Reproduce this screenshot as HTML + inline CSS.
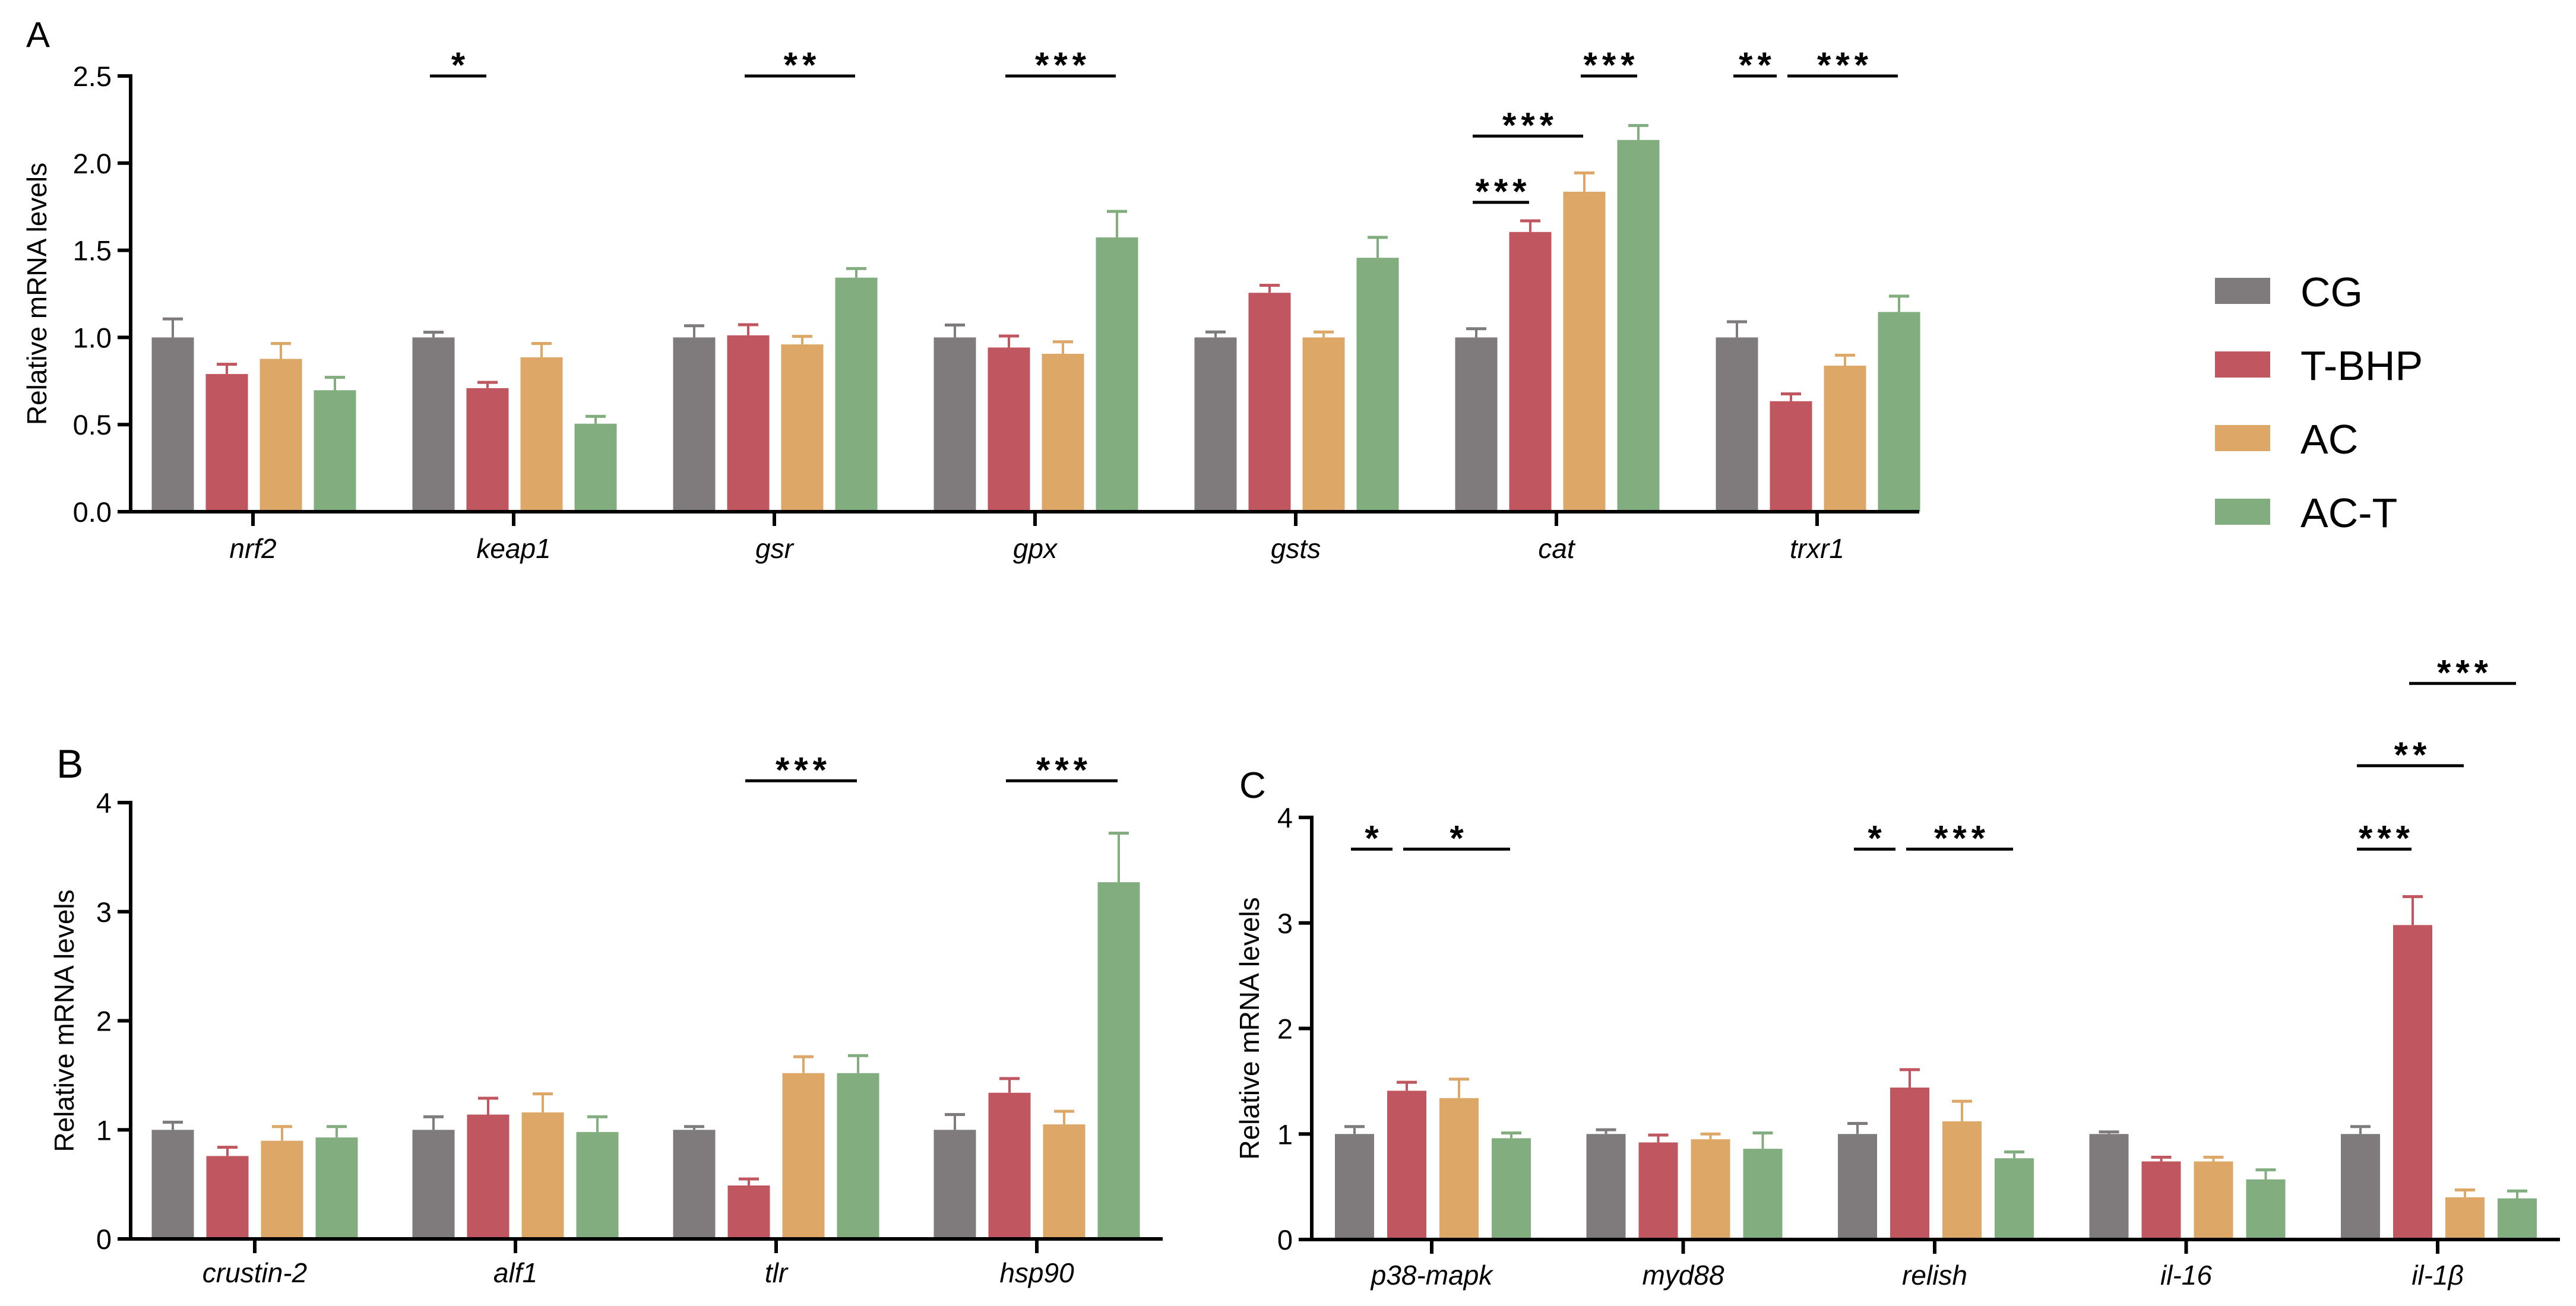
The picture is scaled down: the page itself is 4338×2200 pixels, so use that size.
<!DOCTYPE html>
<html><head><meta charset="utf-8">
<style>
html,body{margin:0;padding:0;background:#fff;}
svg{display:block;font-family:"Liberation Sans",Arial,sans-serif;}
</style></head>
<body>
<svg id="fig" width="4338" height="2200" viewBox="0 0 4338 2200" xmlns="http://www.w3.org/2000/svg">
<g id="root"></g>
</svg>
<script>
// ---------- Data ----------
const groups = ["CG","T-BHP","AC","AC-T"];
const colors = ["#7f7b7c","#c0565f","#dda768","#82ad7f"];

const catsA = ["nrf2","keap1","gsr","gpx","gsts","cat","trxr1"];
const meanA_CG   = [1.0, 1.0, 1.0, 1.0, 1.0, 1.0, 1.0];
const meanA_TBHP = [0.79, 0.709, 1.012, 0.942, 1.256, 1.605, 0.634];
const meanA_AC   = [0.877, 0.886, 0.96, 0.906, 1.0, 1.836, 0.838];
const meanA_ACT  = [0.697, 0.505, 1.343, 1.574, 1.457, 2.133, 1.146];
const errA_CG    = [1.106, 1.03, 1.067, 1.071, 1.031, 1.05, 1.09];
const errA_TBHP  = [0.846, 0.742, 1.073, 1.008, 1.299, 1.669, 0.676];
const errA_AC    = [0.965, 0.965, 1.006, 0.975, 1.031, 1.944, 0.898];
const errA_ACT   = [0.771, 0.547, 1.395, 1.723, 1.574, 2.216, 1.237];
const ticksA = [0, 0.5, 1.0, 1.5, 2.0, 2.5];
const tickLabelsA = ["0.0","0.5","1.0","1.5","2.0","2.5"];

const catsB = ["crustin-2","alf1","tlr","hsp90"];
const meanB_CG   = [1.0, 1.0, 1.0, 1.0];
const meanB_TBHP = [0.76, 1.14, 0.49, 1.34];
const meanB_AC   = [0.90, 1.16, 1.52, 1.05];
const meanB_ACT  = [0.93, 0.98, 1.52, 3.27];
const errB_CG    = [1.07, 1.12, 1.03, 1.14];
const errB_TBHP  = [0.84, 1.29, 0.55, 1.47];
const errB_AC    = [1.03, 1.33, 1.67, 1.17];
const errB_ACT   = [1.03, 1.12, 1.68, 3.72];
const ticksB = [0,1,2,3,4];
const tickLabelsB = ["0","1","2","3","4"];

const catsC = ["p38-mapk","myd88","relish","il-16","il-1β"];
const meanC_CG   = [1.0, 1.0, 1.0, 1.0, 1.0];
const meanC_TBHP = [1.41, 0.92, 1.44, 0.74, 2.98];
const meanC_AC   = [1.34, 0.95, 1.12, 0.74, 0.40];
const meanC_ACT  = [0.96, 0.86, 0.77, 0.57, 0.39];
const errC_CG    = [1.07, 1.04, 1.10, 1.02, 1.07];
const errC_TBHP  = [1.49, 0.99, 1.61, 0.78, 3.25];
const errC_AC    = [1.52, 1.00, 1.31, 0.78, 0.47];
const errC_ACT   = [1.01, 1.01, 0.83, 0.66, 0.46];
const ticksC = [0,1,2,3,4];
const tickLabelsC = ["0","1","2","3","4"];

// significance: [category index, from-group, to-group, level value, stars]
const sigA = [[1,0,1,2.5,"*"],[2,1,3,2.5,"**"],[3,1,3,2.5,"***"],[5,2,3,2.5,"***"],[5,0,2,2.155,"***"],[5,0,1,1.775,"***"],[6,0,1,2.5,"**"],[6,1,3,2.5,"***"]];
const sigB = [[2,1,3,4.2,"***"],[3,1,3,4.2,"***"]];
const sigC = [[0,0,1,3.7,"*"],[0,1,3,3.7,"*"],[2,0,1,3.7,"*"],[2,1,3,3.7,"***"],[4,0,1,3.7,"***"],[4,0,2,4.49,"**"],[4,1,3,5.27,"***"]];

// ---------- Drawing ----------
const NS = "http://www.w3.org/2000/svg";
const root = document.getElementById("root");
function mk(tag, attrs, parent){
  const e = document.createElementNS(NS, tag);
  for (const k in attrs) e.setAttribute(k, attrs[k]);
  (parent||root).appendChild(e);
  return e;
}

function panel(cfg){
  const g = mk("g", {});
  
  
  const ymax = cfg.ticks[cfg.ticks.length-1];
  const y = v => cfg.y0 - (v/ymax)*(cfg.y0 - cfg.yTop);
  const x = i => cfg.x0c + i*cfg.step;
  const L = mk("text", {x:cfg.letterX, y:cfg.letterY, "font-size":cfg.letterSize, fill:"#000"}, g);
  L.textContent = cfg.letter;
  
  
  const means = cfg.means, errs = cfg.errs;
  for (let s=0;s<4;s++){
    for (let i=0;i<cfg.cats.length;i++){
      const cx = x(i) + cfg.offsets[s];
      const top = y(means[s][i]);
      const et = y(errs[s][i]);
      const ln = mk("line", {x1:cx, x2:cx, y1:top, y2:et, stroke:colors[s], "stroke-width":4}, g);
      
      
      const cap = mk("line", {x1:cx-17, x2:cx+17, y1:et, y2:et, stroke:colors[s], "stroke-width":5}, g);
      
      
      const r = mk("rect", {x:cx-cfg.bw/2, y:top, width:cfg.bw, height:cfg.y0-top, fill:colors[s]}, g);
      
      
    }
  }
  const ya = mk("line", {x1:cfg.axX, x2:cfg.axX, y1:cfg.yTop-3, y2:cfg.y0+3, stroke:"#000", "stroke-width":6}, g);
  
  
  const xa = mk("line", {x1:cfg.axX-3, x2:cfg.axEnd, y1:cfg.y0, y2:cfg.y0, stroke:"#000", "stroke-width":6}, g);
  
  
  cfg.ticks.forEach((t,k)=>{
    const ty = y(t);
    const tl = mk("line", {x1:cfg.axX-22, x2:cfg.axX, y1:ty, y2:ty, stroke:"#000", "stroke-width":6}, g);
    
    
    const tx = mk("text", {x:cfg.axX-32, y:ty+17, "font-size":cfg.tickSize, "text-anchor":"end", fill:"#000"}, g);
    tx.textContent = cfg.tickLabels[k];
    
    
  });
  cfg.cats.forEach((c,i)=>{
    const tl = mk("line", {x1:x(i), x2:x(i), y1:cfg.y0, y2:cfg.y0+24, stroke:"#000", "stroke-width":6}, g);
    
    
    const tx = mk("text", {x:x(i), y:cfg.catY, "font-size":46, "font-style":"italic", "text-anchor":"middle", fill:"#000"}, g);
    tx.textContent = c;
    
    
  });
  const at = mk("text", {x:0, y:0, "font-size":46, "text-anchor":"middle", fill:"#000",
    transform:"translate("+cfg.titleX+","+((cfg.y0+cfg.yTop)/2)+") rotate(-90)"}, g);
  at.textContent = "Relative mRNA levels";
  
  
  cfg.sig.forEach(sg=>{
    const [ci,a,b,lv,st] = sg;
    const adjacent = cfg.sig.some(o => o!==sg && o[0]===ci && o[3]===lv && o[1]===b);
    const xa1 = x(ci)+cfg.offsets[a]-6, xb1 = x(ci)+cfg.offsets[b]-(adjacent?24:2);
    const ly = y(lv);
    const sl = mk("line", {x1:xa1, x2:xb1, y1:ly, y2:ly, stroke:"#000", "stroke-width":5}, g);
    
    
    const stx = mk("text", {x:(xa1+xb1)/2 + 4, y:ly+2, "font-size":60, "font-weight":"bold", "letter-spacing":8, "text-anchor":"middle", fill:"#000"}, g);
    stx.textContent = st;
    
    
  });
}

panel({name:"panel-a", letter:"A", letterX:44, letterY:79, letterSize:60,
  cats:catsA, means:[meanA_CG,meanA_TBHP,meanA_AC,meanA_ACT], errs:[errA_CG,errA_TBHP,errA_AC,errA_ACT],
  ticks:ticksA, tickLabels:tickLabelsA, y0:862, yTop:128, axX:220, axEnd:3232,
  x0c:426, step:439, offsets:[-135,-44,47,138], bw:71, catY:940, titleX:78, tickSize:47, sig:sigA});

panel({name:"panel-b", letter:"B", letterX:95, letterY:1310, letterSize:68,
  cats:catsB, means:[meanB_CG,meanB_TBHP,meanB_AC,meanB_ACT], errs:[errB_CG,errB_TBHP,errB_AC,errB_ACT],
  ticks:ticksB, tickLabels:tickLabelsB, y0:2087, yTop:1352, axX:220, axEnd:1958,
  x0c:429, step:439, offsets:[-138,-46,46,138], bw:71, catY:2160, titleX:124, tickSize:47, sig:sigB});

panel({name:"panel-c", letter:"C", letterX:2087, letterY:1344, letterSize:62,
  cats:catsC, means:[meanC_CG,meanC_TBHP,meanC_AC,meanC_ACT], errs:[errC_CG,errC_TBHP,errC_AC,errC_ACT],
  ticks:ticksC, tickLabels:tickLabelsC, y0:2088, yTop:1377, axX:2209, axEnd:4311,
  x0c:2411, step:423.5, offsets:[-130,-42,46,134], bw:66, catY:2164, titleX:2120, tickSize:47, sig:sigC});

const leg = mk("g", {});


groups.forEach((gname,s)=>{
  const yy = 468 + s*124;
  const sw = mk("rect", {x:3730, y:yy, width:93, height:44, fill:colors[s]}, leg);
  
  
  const t = mk("text", {x:3874, y:yy+48, "font-size":70, fill:"#000"}, leg);
  t.textContent = gname;
  
  
});
</script>
</body></html>
